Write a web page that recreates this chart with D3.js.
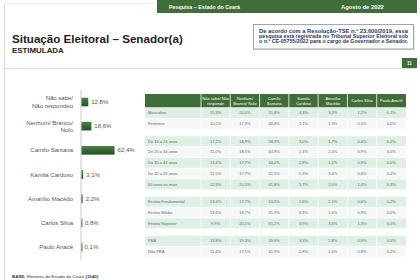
<!DOCTYPE html>
<html>
<head>
<meta charset="utf-8">
<script src="https://cdn.jsdelivr.net/npm/d3@7"></script>
<style>
  body { margin: 0; background: #fff; }
  svg { display: block; font-family: "Liberation Sans", Arial, sans-serif; }
</style>
</head>
<body>
<script>
// dados do grafico de barras (total)
const candidatos = ["Não sabe/ Não respondeu", "Nenhum/ Branco/ Nulo", "Camilo Santana", "Kamila Cardoso", "Amarílio Macêdo", "Carlos Silva", "Paulo Anacê"];
const candidatosLinhas = [["Não sabe/", "Não respondeu"], ["Nenhum/ Branco/", "Nulo"], ["Camilo Santana"], ["Kamila Cardoso"], ["Amarílio Macêdo"], ["Carlos Silva"], ["Paulo Anacê"]];
const totais = [12.8, 18.6, 62.4, 3.1, 2.2, 0.8, 0.1];

// cabecalho da tabela
const colunas = [["Não sabe/ Não", "responde"], ["Nenhum/", "Branco/ Nulo"], ["Camilo", "Santana"], ["Kamila", "Cardoso"], ["Amarílio", "Macêdo"], ["Carlos Silva"], ["Paulo Anacê"]];

// linhas por grupo
const sexoLabels = ["Masculino", "Feminino"];
const sexoValores = [
  [15.3, 20.0, 55.8, 4.3, 3.2, 1.2, 0.1],
  [10.5, 17.3, 68.8, 2.1, 1.3, 0.0, 0.0]
];
const idadeLabels = ["De 16 a 24 anos", "De 25 a 34 anos", "De 35 a 44 anos", "De 45 a 59 anos", "60 anos ou mais"];
const idadeValores = [
  [17.2, 18.9, 58.9, 3.0, 1.7, 0.4, 0.0],
  [11.0, 18.5, 64.8, 2.4, 2.4, 0.9, 0.0],
  [13.4, 17.7, 64.0, 2.8, 1.2, 0.9, 0.0],
  [11.5, 17.7, 61.5, 5.3, 3.4, 0.6, 0.0],
  [12.3, 20.5, 61.8, 1.7, 2.0, 1.4, 0.3]
];
const escolaridadeLabels = ["Ensino Fundamental", "Ensino Médio", "Ensino Superior"];
const escolaridadeValores = [
  [13.4, 17.7, 63.5, 2.6, 2.1, 0.6, 0.2],
  [13.6, 18.7, 61.9, 3.3, 1.6, 0.9, 0.0],
  [9.9, 20.1, 61.2, 3.9, 3.6, 1.3, 0.0]
];
const peaLabels = ["PEA", "Não PEA"];
const peaValores = [
  [13.8, 19.3, 59.9, 3.3, 2.8, 0.9, 0.0],
  [11.4, 17.5, 65.9, 2.8, 1.4, 0.8, 0.2]
];

const W = 420, H = 280;
const verde = "#3f6e38";
const pt = d3.formatLocale({decimal: ",", thousands: ".", grouping: [3], currency: ["R$", ""]});
const pct = v => pt.format(".1f")(v) + "%";

const svg = d3.select("body").append("svg")
    .attr("width", W)
    .attr("height", H);

const defs = svg.append("defs");

// moldura da pagina
svg.append("line").attr("x1", 4.5).attr("x2", 4.5).attr("y1", 3).attr("y2", H)
    .attr("stroke", "#dcdcdc");
svg.append("line").attr("x1", 4).attr("x2", 417).attr("y1", 68.5).attr("y2", 68.5)
    .attr("stroke", "#dcdcdc");
svg.append("line").attr("x1", 4).attr("x2", 157).attr("y1", 3.5).attr("y2", 3.5)
    .attr("stroke", "#eeeeee");

// faixa verde do topo
svg.append("rect").attr("x", 157).attr("y", 0).attr("width", 260).attr("height", 13)
    .attr("fill", verde);
svg.append("text").attr("x", 169).attr("y", 8.6)
    .attr("font-size", 5.3).attr("font-weight", "bold").attr("fill", "#fff")
    .text("Pesquisa – Estado do Ceará");
svg.append("text").attr("x", 341).attr("y", 8.6)
    .attr("font-size", 5.8).attr("font-weight", "bold").attr("fill", "#fff")
    .text("Agosto de 2022");

// titulo
svg.append("text").attr("x", 12).attr("y", 43)
    .attr("font-size", 11.6).attr("font-weight", "bold").attr("fill", "#222")
    .text("Situação Eleitoral – Senador(a)");
svg.append("text").attr("x", 12).attr("y", 53)
    .attr("font-size", 7.9).attr("font-weight", "bold").attr("fill", "#222")
    .text("ESTIMULADA");

// caixa da nota TSE (com sombra leve)
svg.append("rect").attr("x", 254.5).attr("y", 25.5).attr("width", 160).attr("height", 24.5)
    .attr("fill", "#d9d9d9");
svg.append("rect").attr("x", 253.5).attr("y", 24.5).attr("width", 160).attr("height", 24.5)
    .attr("fill", "#fff").attr("stroke", "#8f8f8f").attr("stroke-width", 0.8);
const nota = [
  "De acordo com a Resolução-TSE n.º 23.600/2019, essa",
  "pesquisa está registrada no Tribunal Superior Eleitoral sob",
  "o n.º CE-05755/2022 para o cargo de Governador e Senador."
];
svg.selectAll("text.nota")
    .data(nota)
    .enter()
    .append("text")
    .attr("class", "nota")
    .attr("x", 259)
    .attr("y", (d, i) => 33 + i * 5.1)
    .attr("textLength", 149)
    .attr("lengthAdjust", "spacingAndGlyphs")
    .attr("font-size", 4.6).attr("font-weight", "bold").attr("fill", "#1f3864")
    .text(d => d);

// numero da pagina
svg.append("rect").attr("x", 402).attr("y", 58).attr("width", 15).attr("height", 10)
    .attr("fill", verde);
svg.append("text").attr("x", 409.5).attr("y", 64.6).attr("text-anchor", "middle")
    .attr("font-size", 4.5).attr("font-weight", "bold").attr("fill", "#fff")
    .text("11");

// ---------- grafico de barras ----------
const x = d3.scaleLinear().domain([0, 100]).range([81, 134]);
const y = d3.scalePoint().domain(candidatos).range([102, 247]);
const barH = 8.6;

const grad = defs.append("linearGradient")
    .attr("id", "gbar").attr("x1", 0).attr("x2", 0).attr("y1", 0).attr("y2", 1);
grad.append("stop").attr("offset", "0%").attr("stop-color", "#4d7f48");
grad.append("stop").attr("offset", "100%").attr("stop-color", "#1f5225");

svg.append("line").attr("x1", 81).attr("x2", 81).attr("y1", 90).attr("y2", 260)
    .attr("stroke", "#bdbdbd").attr("stroke-width", 0.8);

svg.selectAll("rect.bar")
    .data(totais)
    .enter()
    .append("rect")
    .attr("class", "bar")
    .attr("x", x(0) + 0.5)
    .attr("y", (d, i) => y(candidatos[i]) - barH / 2)
    .attr("width", d => Math.max(x(d) - x(0), 0.9))
    .attr("height", barH)
    .attr("fill", "url(#gbar)");

svg.selectAll("text.valor")
    .data(totais)
    .enter()
    .append("text")
    .attr("class", "valor")
    .attr("x", d => x(d) + 3.5)
    .attr("y", (d, i) => y(candidatos[i]) + 2.1)
    .attr("font-size", 6).attr("fill", "#555")
    .text(d => pct(d));

const rotulos = svg.selectAll("text.cat")
    .data(candidatosLinhas)
    .enter()
    .append("text")
    .attr("class", "cat")
    .attr("text-anchor", "end")
    .attr("font-size", 6).attr("fill", "#555")
    .attr("y", (d, i) => y(candidatos[i]) + 2.1 - (d.length - 1) * 3.7);
rotulos.selectAll("tspan")
    .data(d => d)
    .enter()
    .append("tspan")
    .attr("x", 73)
    .attr("dy", (d, i) => i === 0 ? 0 : 7.4)
    .text(d => d);

// ---------- tabela ----------
const grupos = [
  {labels: sexoLabels, valores: sexoValores},
  {labels: idadeLabels, valores: idadeValores},
  {labels: escolaridadeLabels, valores: escolaridadeValores},
  {labels: peaLabels, valores: peaValores}
];
const linhas = [];
let k = 0;
grupos.forEach((g, gi) => {
  g.labels.forEach((lab, ri) => {
    linhas.push({label: lab, valores: g.valores[ri], cy: 113 + k * 10.8 + gi * 6.6, par: ri % 2 === 0});
    k++;
  });
});

const colX = d3.scaleBand().domain(d3.range(colunas.length)).range([201, 406]);
const tabX0 = 145, rowH = 10.8;

// cabecalho
svg.append("rect").attr("x", tabX0).attr("y", 94).attr("width", 406 - tabX0).attr("height", 13.3)
    .attr("fill", verde);
svg.selectAll("line.sep")
    .data(d3.range(colunas.length))
    .enter()
    .append("line")
    .attr("class", "sep")
    .attr("x1", d => colX(d)).attr("x2", d => colX(d))
    .attr("y1", 94).attr("y2", 107.3)
    .attr("stroke", "#fff").attr("stroke-width", 0.8);
const cab = svg.selectAll("text.cab")
    .data(colunas)
    .enter()
    .append("text")
    .attr("class", "cab")
    .attr("text-anchor", "middle")
    .attr("font-size", 4).attr("fill", "#fff")
    .attr("y", d => d.length === 1 ? 102.1 : 100);
cab.selectAll("tspan")
    .data(d => d)
    .enter()
    .append("tspan")
    .attr("x", function () { return colX(colunas.indexOf(d3.select(this.parentNode).datum())) + colX.bandwidth() / 2; })
    .attr("dy", (d, i) => i === 0 ? 0 : 4.6)
    .text(d => d);

// linhas
const lin = svg.selectAll("g.linha")
    .data(linhas)
    .enter()
    .append("g")
    .attr("class", "linha");
lin.append("rect")
    .attr("x", tabX0).attr("y", d => d.cy - rowH / 2 + 0.4)
    .attr("width", 406 - tabX0).attr("height", rowH - 0.8)
    .attr("fill", d => d.par ? "#deefe4" : "#f6f8f7");
lin.selectAll("line")
    .data(d3.range(colunas.length))
    .enter()
    .append("line")
    .attr("x1", d => colX(d)).attr("x2", d => colX(d))
    .attr("y1", function () { return d3.select(this.parentNode).datum().cy - rowH / 2; })
    .attr("y2", function () { return d3.select(this.parentNode).datum().cy + rowH / 2; })
    .attr("stroke", "#fff").attr("stroke-width", 0.8);
lin.append("text")
    .attr("x", 148).attr("y", d => d.cy + 1.4)
    .attr("font-size", 4).attr("fill", "#666")
    .text(d => d.label);
lin.selectAll("text.cel")
    .data(d => d.valores.map((v, j) => ({v: v, j: j, cy: d.cy})))
    .enter()
    .append("text")
    .attr("class", "cel")
    .attr("x", d => colX(d.j) + colX.bandwidth() / 2)
    .attr("y", d => d.cy + 1.4)
    .attr("text-anchor", "middle")
    .attr("font-size", 4).attr("fill", "#666")
    .text(d => pct(d.v));

// rodape
const base = svg.append("text").attr("x", 12).attr("y", 278.3)
    .attr("font-size", 4.4).attr("fill", "#333");
base.append("tspan").attr("font-weight", "bold").text("BASE:");
base.append("tspan").text(" Eleitores do Estado do Ceará ");
base.append("tspan").attr("font-weight", "bold").text("(1540)");
</script>
</body>
</html>
